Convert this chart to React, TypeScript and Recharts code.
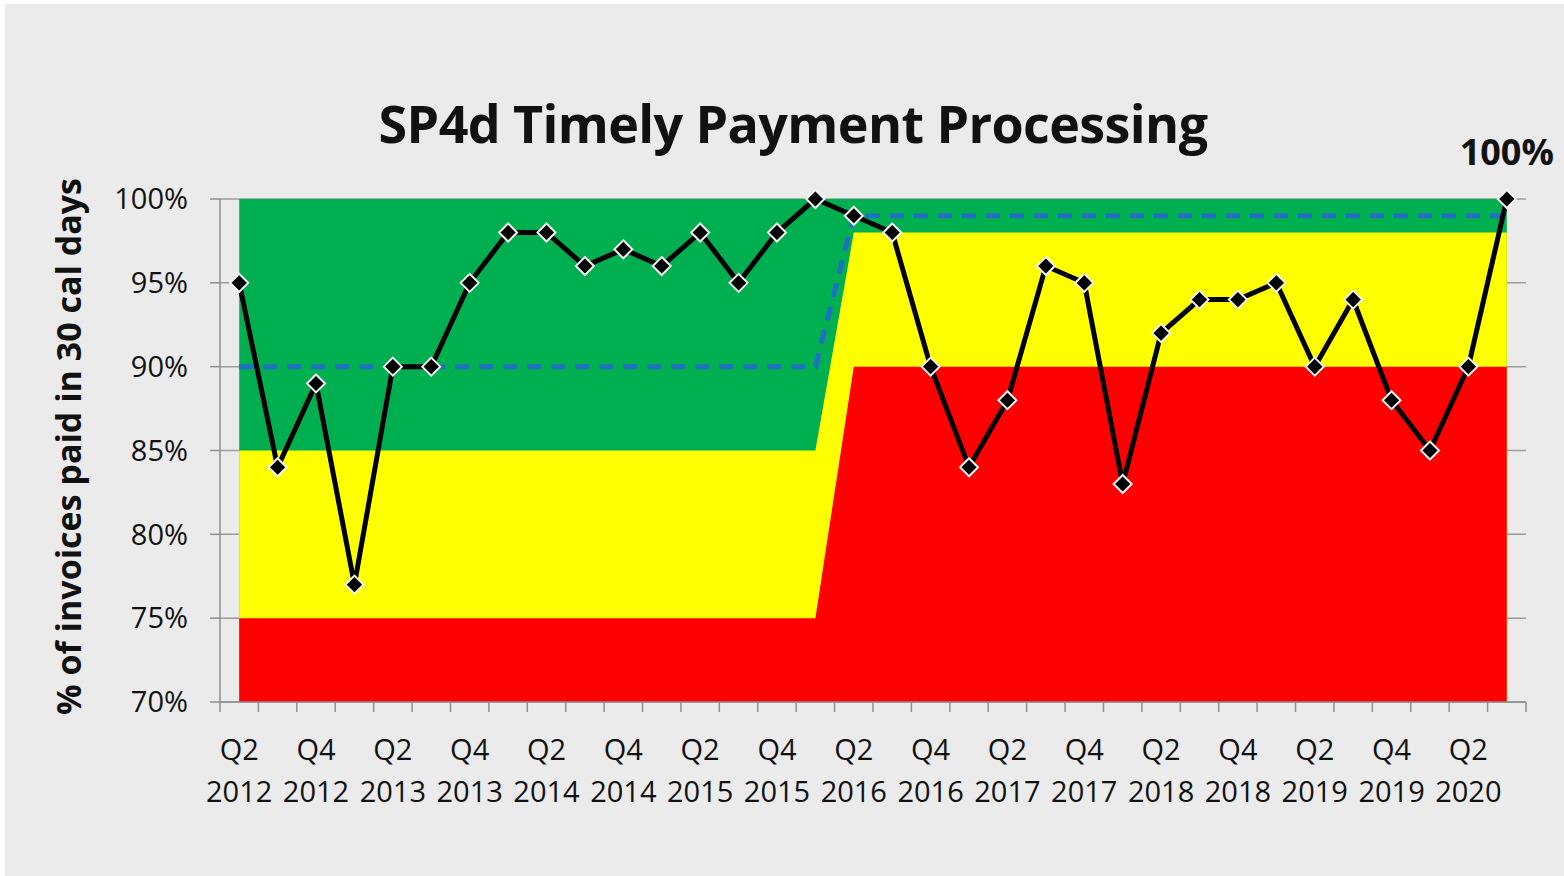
import React from "react";
import {
  ComposedChart,
  Area,
  Line,
  XAxis,
  YAxis,
  CartesianGrid,
  LabelList,
  Label,
} from "recharts";

// ---------- data ----------
const categories = [
  "Q2 2012", "Q3 2012", "Q4 2012", "Q1 2013", "Q2 2013", "Q3 2013", "Q4 2013",
  "Q1 2014", "Q2 2014", "Q3 2014", "Q4 2014", "Q1 2015", "Q2 2015", "Q3 2015",
  "Q4 2015", "Q1 2016", "Q2 2016", "Q3 2016", "Q4 2016", "Q1 2017", "Q2 2017",
  "Q3 2017", "Q4 2017", "Q1 2018", "Q2 2018", "Q3 2018", "Q4 2018", "Q1 2019",
  "Q2 2019", "Q3 2019", "Q4 2019", "Q1 2020", "Q2 2020", "Q3 2020",
];

const actual = [
  95, 84, 89, 77, 90, 90, 95, 98, 98, 96, 97, 96, 98, 95, 98, 100, 99, 98, 90,
  84, 88, 96, 95, 83, 92, 94, 94, 95, 90, 94, 88, 85, 90, 100,
];

const target = [
  90, 90, 90, 90, 90, 90, 90, 90, 90, 90, 90, 90, 90, 90, 90, 90, 99, 99, 99,
  99, 99, 99, 99, 99, 99, 99, 99, 99, 99, 99, 99, 99, 99, 99,
];

const redTop = [
  75, 75, 75, 75, 75, 75, 75, 75, 75, 75, 75, 75, 75, 75, 75, 75, 90, 90, 90,
  90, 90, 90, 90, 90, 90, 90, 90, 90, 90, 90, 90, 90, 90, 90,
];

const yellowTop = [
  85, 85, 85, 85, 85, 85, 85, 85, 85, 85, 85, 85, 85, 85, 85, 85, 98, 98, 98,
  98, 98, 98, 98, 98, 98, 98, 98, 98, 98, 98, 98, 98, 98, 98,
];

const greenTop = [
  100, 100, 100, 100, 100, 100, 100, 100, 100, 100, 100, 100, 100, 100, 100,
  100, 100, 100, 100, 100, 100, 100, 100, 100, 100, 100, 100, 100, 100, 100,
  100, 100, 100, 100,
];

const yTicks = [70, 75, 80, 85, 90, 95, 100];

const data = categories.map((q, i) => ({
  q,
  actual: actual[i],
  target: target[i],
  red: redTop[i],
  yellow: yellowTop[i],
  green: greenTop[i],
}));

// ---------- layout ----------
const CHART_W = 1559;
const CHART_H = 872;
const MARGIN = { top: 195, right: 38, bottom: 0, left: 0 };
const Y_AXIS_W = 215;
const X_AXIS_H = 174;
const PLOT_W = CHART_W - MARGIN.left - MARGIN.right - Y_AXIS_W;
const STEP = PLOT_W / categories.length;
const HALF = STEP / 2;

const FONT = "'Open Sans', 'Noto Sans', sans-serif";
const AXIS_GRAY = "#8f8f8f";

function XTick(props: any) {
  const { x, y, payload } = props;
  const idx = categories.indexOf(payload.value);
  const [qLabel, yLabel] = String(payload.value).split(" ");
  const isLast = idx === categories.length - 1;
  const showLabel = idx % 2 === 0;
  return (
    <g>
      <line x1={x - HALF} x2={x - HALF} y1={y} y2={y + 10} stroke={AXIS_GRAY} strokeWidth={1.5} />
      {isLast && (
        <line x1={x + HALF} x2={x + HALF} y1={y} y2={y + 10} stroke={AXIS_GRAY} strokeWidth={1.5} />
      )}
      {showLabel && (
        <text x={x} y={y + 58} textAnchor="middle" fontSize={29} fill="#111" fontFamily={FONT}>
          {qLabel}
        </text>
      )}
      {showLabel && (
        <text x={x} y={y + 100} textAnchor="middle" fontSize={29} fill="#111" fontFamily={FONT}>
          {yLabel}
        </text>
      )}
    </g>
  );
}

function Diamond(props: any) {
  const { cx, cy } = props;
  if (cx == null || cy == null) return null;
  const r = 9;
  return (
    <polygon
      points={`${cx},${cy - r} ${cx + r},${cy} ${cx},${cy + r} ${cx - r},${cy}`}
      fill="#000"
      stroke="#f2f2f2"
      strokeWidth={2}
    />
  );
}

function LastLabel(props: any) {
  const { x, y, value, index } = props;
  if (index !== categories.length - 1) return null;
  return (
    <text
      x={x}
      y={y - 34}
      textAnchor="middle"
      fontSize={36}
      fontWeight="bold"
      fill="#111"
      fontFamily={FONT}
    >
      {`${value}%`}
    </text>
  );
}

function YTitle(props: any) {
  const vb = props.viewBox || {};
  const cx = (vb.x || 0) + 63;
  const cy = (vb.y || 0) + (vb.height || 0) / 2 - 4;
  return (
    <text
      x={cx}
      y={cy}
      transform={`rotate(-90, ${cx}, ${cy})`}
      textAnchor="middle"
      dominantBaseline="central"
      fontSize={34}
      fontWeight="bold"
      fill="#111"
      fontFamily={FONT}
    >
      % of invoices paid in 30 cal days
    </text>
  );
}

export default function App() {
  return (
    <div
      style={{
        position: "absolute",
        left: 5,
        top: 4,
        width: CHART_W,
        height: CHART_H,
        background: "#ebebeb",
      }}
    >
      <ComposedChart width={CHART_W} height={CHART_H} data={data} margin={MARGIN}>
        <CartesianGrid vertical={false} stroke="#9d9d9d" strokeWidth={1.5} />
        <XAxis
          dataKey="q"
          scale="point"
          padding={{ left: HALF, right: HALF }}
          interval={0}
          height={X_AXIS_H}
          tickLine={false}
          tickSize={0}
          tickMargin={0}
          axisLine={{ stroke: AXIS_GRAY, strokeWidth: 1.5 }}
          tick={<XTick />}
        />
        <YAxis
          type="number"
          domain={[70, 100]}
          ticks={yTicks}
          width={Y_AXIS_W}
          tickSize={10}
          tickMargin={22}
          tickFormatter={(v: number) => `${v}%`}
          tick={{ fontSize: 29, fill: "#111", fontFamily: FONT }}
          tickLine={{ stroke: AXIS_GRAY, strokeWidth: 1.5 }}
          axisLine={{ stroke: AXIS_GRAY, strokeWidth: 1.5 }}
        >
          <Label content={<YTitle />} />
        </YAxis>
        <Area
          dataKey="green"
          type="linear"
          stroke="none"
          fill="#00B050"
          fillOpacity={1}
          baseValue={70}
          dot={false}
          activeDot={false}
          isAnimationActive={false}
        />
        <Area
          dataKey="yellow"
          type="linear"
          stroke="none"
          fill="#FFFF00"
          fillOpacity={1}
          baseValue={70}
          dot={false}
          activeDot={false}
          isAnimationActive={false}
        />
        <Area
          dataKey="red"
          type="linear"
          stroke="none"
          fill="#FF0000"
          fillOpacity={1}
          baseValue={70}
          dot={false}
          activeDot={false}
          isAnimationActive={false}
        />
        <Line
          dataKey="target"
          type="linear"
          stroke="#1F70C1"
          strokeWidth={5}
          strokeDasharray="14 10"
          dot={false}
          activeDot={false}
          isAnimationActive={false}
        />
        <Line
          dataKey="actual"
          type="linear"
          stroke="#000"
          strokeWidth={5}
          dot={<Diamond />}
          activeDot={false}
          isAnimationActive={false}
        >
          <LabelList dataKey="actual" content={<LastLabel />} />
        </Line>
      </ComposedChart>
      <div
        style={{
          position: "absolute",
          left: 788 - 600,
          width: 1200,
          top: 93,
          textAlign: "center",
          fontFamily: FONT,
          fontWeight: 700,
          fontSize: 52,
          lineHeight: 1,
          letterSpacing: -0.6,
          color: "#111",
          whiteSpace: "nowrap",
        }}
      >
        SP4d Timely Payment Processing
      </div>
    </div>
  );
}
